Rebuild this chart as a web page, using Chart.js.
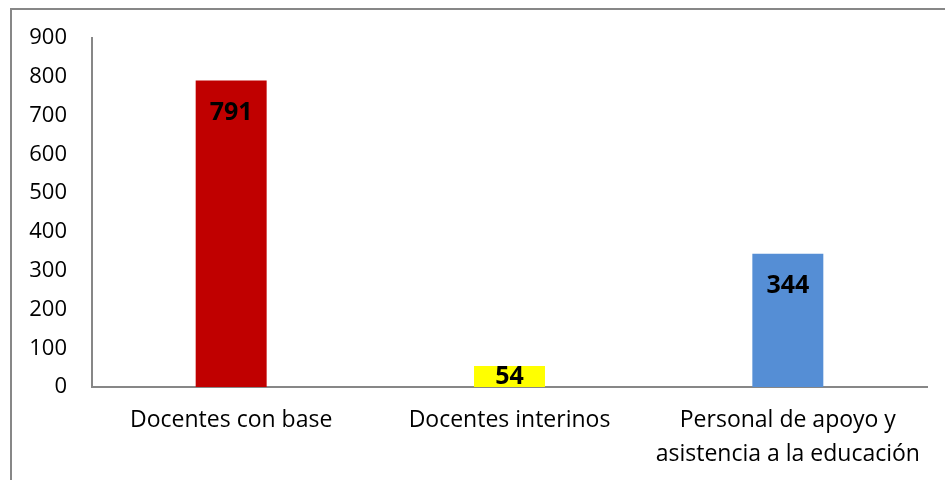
<!DOCTYPE html>
<html>
<head>
<meta charset="utf-8">
<script src="https://cdn.jsdelivr.net/npm/chart.js@4/dist/chart.umd.min.js"></script>
<style>
  html, body { margin: 0; padding: 0; background: #fff; }
  #wrap { position: relative; width: 945px; height: 480px; }
  #frame {
    position: absolute; left: 10px; top: 8px; right: -2px; bottom: -2px;
    border-left: 2px solid #878787; border-top: 2px solid #878787;
    pointer-events: none;
  }
  canvas { position: absolute; left: 0; top: 0; }
</style>
</head>
<body>
<div id="wrap">
  <canvas id="chart" width="945" height="480"></canvas>
  <div id="frame"></div>
</div>
<script>
  var CATEGORIES = ["Docentes con base", "Docentes interinos", ["Personal de apoyo y", "asistencia a la educación"]];
  var VALUES = [791, 54, 344];
  var BAR_COLORS = ["#C00000", "#FFFF00", "#558ED5"];
  var Y_TICKS = [0, 100, 200, 300, 400, 500, 600, 700, 800, 900];

  var FONT = "'Open Sans', 'DejaVu Sans', sans-serif";

  // value labels inside the bar top, like the spreadsheet "inside end"
  var barLabels = {
    id: "barLabels",
    afterDatasetsDraw: function (chart) {
      var ctx = chart.ctx;
      var meta = chart.getDatasetMeta(0);
      ctx.save();
      ctx.font = "bold 25px " + FONT;
      ctx.fillStyle = "#000";
      ctx.textAlign = "center";
      ctx.textBaseline = "middle";
      meta.data.forEach(function (bar, i) {
        var mid = (bar.y + bar.base) / 2;
        var y = Math.min(bar.y + 32, mid);
        ctx.fillText(String(VALUES[i]), bar.x, y);
      });
      ctx.restore();
    }
  };

  new Chart(document.getElementById("chart"), {
    type: "bar",
    data: {
      labels: CATEGORIES,
      datasets: [{
        data: VALUES,
        backgroundColor: BAR_COLORS,
        borderWidth: 0,
        categoryPercentage: 1,
        barPercentage: 0.255
      }]
    },
    options: {
      responsive: false,
      animation: false,
      layout: { padding: { left: 0, top: 38, right: 18, bottom: 0 } },
      plugins: { legend: { display: false }, tooltip: { enabled: false } },
      scales: {
        x: {
          grid: { display: false, drawTicks: false },
          border: { display: true, color: "#878787", width: 2 },
          ticks: {
            color: "#000",
            padding: 17,
            maxRotation: 0,
            autoSkip: false,
            font: { family: FONT, size: 23, lineHeight: 1.45 }
          },
          afterFit: function (s) { s.height = 93; }
        },
        y: {
          min: 0,
          max: 900,
          afterBuildTicks: function (s) {
            s.ticks = Y_TICKS.map(function (v) { return { value: v }; });
          },
          grid: { display: false, drawTicks: false },
          border: { display: true, color: "#878787", width: 2 },
          ticks: {
            color: "#000",
            padding: 25,
            font: { family: FONT, size: 22 }
          },
          afterFit: function (s) { s.width = 92; }
        }
      }
    },
    plugins: [barLabels]
  });
</script>
</body>
</html>
